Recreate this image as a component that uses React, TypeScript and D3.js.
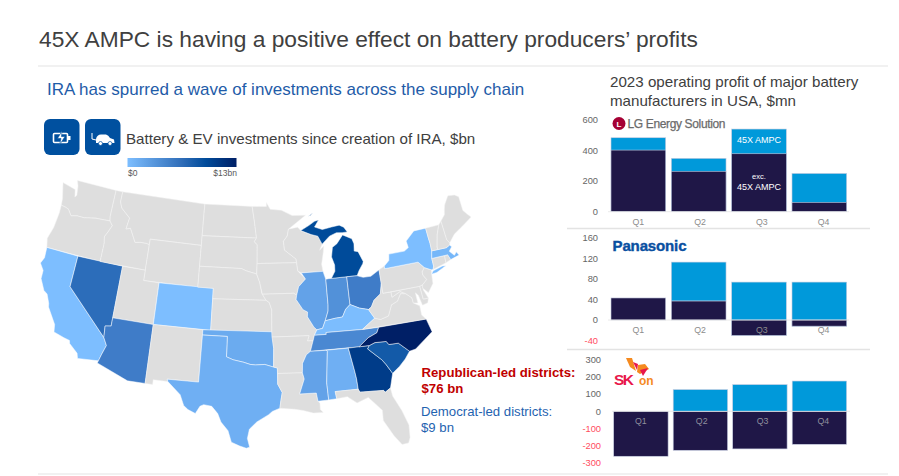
import React from "react";
import * as d3 from "d3";

type Pt = [number, number];
const FONT = "'Liberation Sans', Arial, sans-serif";

// ---------- map data: state outlines in lon/lat, values in $bn ----------
const stateOutlines: Record<string, Pt[][]> = {
  WA: [[[-124.7,48.4],[-123.1,48.15],[-122.75,48.1],[-122.5,47.4],[-122.3,47.6],[-122.5,48.5],[-122.8,49],[-117.03,49],[-117.04,46.4],[-116.92,45.99],[-119,45.93],[-120.5,45.7],[-121.5,45.7],[-122.3,45.55],[-122.9,46.1],[-123.4,46.2],[-124,46.27],[-124.1,46.9]]],
  OR: [[[-124,46.27],[-123.4,46.2],[-122.9,46.1],[-122.3,45.55],[-121.5,45.7],[-120.5,45.7],[-119,45.93],[-116.92,45.99],[-116.47,45.6],[-116.85,44.95],[-117.2,44.4],[-117.03,43.8],[-117.03,42],[-124.2,42],[-124.5,42.85],[-124.1,44],[-123.95,45.5]]],
  CA: [[[-124.2,42],[-120,42],[-120,39],[-114.63,35],[-114.15,34.3],[-114.5,33.4],[-114.72,32.72],[-117.12,32.53],[-117.3,33],[-118.4,33.75],[-118.5,34.03],[-119.2,34.15],[-120.5,34.45],[-120.65,35.15],[-121.9,36.6],[-122,36.95],[-122.5,37.75],[-123,38],[-123.75,39],[-123.8,39.8],[-124.4,40.4],[-124.1,41]]],
  NV: [[[-120,42],[-114.04,42],[-114.04,36.2],[-114.75,36.1],[-114.63,35],[-120,39]]],
  ID: [[[-117.03,49],[-116.05,49],[-116.05,48],[-115.7,47.45],[-114.35,46.65],[-114.55,45.56],[-113.95,45.7],[-113.45,45.05],[-113,44.45],[-112.3,44.55],[-111.5,44.55],[-111.05,44.48],[-111.05,42],[-117.03,42],[-117.03,43.8],[-117.2,44.4],[-116.85,44.95],[-116.47,45.6],[-116.92,45.99],[-117.04,46.4]]],
  MT: [[[-116.05,49],[-104.05,49],[-104.05,45],[-111.05,45],[-111.05,44.48],[-111.5,44.55],[-112.3,44.55],[-113,44.45],[-113.45,45.05],[-113.95,45.7],[-114.55,45.56],[-114.35,46.65],[-115.7,47.45],[-116.05,48]]],
  WY: [[[-111.05,45],[-104.05,45],[-104.05,41],[-111.05,41]]],
  UT: [[[-114.04,42],[-111.05,42],[-111.05,41],[-109.05,41],[-109.05,37],[-114.04,37]]],
  CO: [[[-109.05,41],[-102.05,41],[-102.05,37],[-109.05,37]]],
  AZ: [[[-114.04,37],[-109.05,37],[-109.05,31.33],[-111.07,31.33],[-114.8,32.5],[-114.72,32.72],[-114.5,33.4],[-114.15,34.3],[-114.63,35],[-114.75,36.1],[-114.04,36.2]]],
  NM: [[[-109.05,37],[-103,37],[-103.05,32],[-106.62,32],[-106.53,31.78],[-108.2,31.78],[-108.2,31.33],[-109.05,31.33]]],
  ND: [[[-104.05,49],[-97.2,49],[-96.85,47.5],[-96.55,45.94],[-104.05,45.94]]],
  SD: [[[-104.05,45.94],[-96.55,45.94],[-96.85,45.6],[-96.45,45.3],[-96.45,43.5],[-96.5,42.5],[-97.9,42.8],[-98.5,43],[-104.05,43]]],
  NE: [[[-104.05,43],[-98.5,43],[-97.9,42.8],[-96.5,42.5],[-96.1,41.7],[-95.85,40.7],[-95.3,40],[-102.05,40],[-102.05,41],[-104.05,41]]],
  KS: [[[-102.05,40],[-95.3,40],[-94.9,39.8],[-94.6,39.1],[-94.62,37],[-102.05,37]]],
  OK: [[[-103,37],[-94.62,37],[-94.43,35.4],[-94.48,33.64],[-95.5,33.9],[-96.6,33.85],[-97.2,33.9],[-98,34.1],[-99.2,34.3],[-100,34.56],[-100,36.5],[-103,36.5]]],
  TX: [[[-103,36.5],[-100,36.5],[-100,34.56],[-99.2,34.3],[-98,34.1],[-97.2,33.9],[-96.6,33.85],[-95.5,33.9],[-94.48,33.64],[-94.04,33.55],[-94.04,32],[-93.55,31.2],[-93.75,30.3],[-93.85,29.7],[-94.7,29.4],[-95.1,29.1],[-96.4,28.4],[-97.2,27.7],[-97.4,26.8],[-97.15,25.96],[-97.5,25.85],[-98.2,26.05],[-99.1,26.4],[-99.5,27.5],[-100.3,28.3],[-100.7,29.1],[-101.4,29.77],[-102.3,29.88],[-102.7,29.7],[-103.15,28.98],[-104,29.3],[-104.5,29.65],[-105,30.65],[-106.53,31.78],[-106.62,32],[-103.05,32]]],
  MN: [[[-97.2,49],[-95.15,49],[-95.15,49.38],[-94.6,48.72],[-93,48.6],[-91.5,48.05],[-89.6,48],[-91,47.3],[-92.1,46.75],[-92.3,46.1],[-92.85,45.6],[-92.75,44.75],[-91.25,43.85],[-91.2,43.5],[-96.45,43.5],[-96.45,45.3],[-96.85,45.6],[-96.55,45.94],[-96.85,47.5]]],
  IA: [[[-96.45,43.5],[-91.2,43.5],[-91.1,42.7],[-90.15,41.9],[-91.1,41.2],[-91.4,40.4],[-91.75,40.6],[-95.77,40.58],[-96.1,41.7],[-96.5,42.5]]],
  MO: [[[-95.77,40.58],[-91.75,40.6],[-91.4,40.4],[-91.5,40],[-90.7,39],[-90.15,38.75],[-90.2,38.3],[-89.5,37.3],[-89.15,37],[-89.5,36.5],[-89.7,36],[-90.37,36],[-90.15,36.5],[-94.62,36.5],[-94.62,37],[-94.6,39.1],[-94.9,39.8],[-95.3,40]]],
  AR: [[[-94.62,36.5],[-90.15,36.5],[-90.37,36],[-89.7,36],[-90.1,35],[-90.6,34.7],[-91.1,33.9],[-91.17,33],[-94.04,33.02],[-94.04,33.55],[-94.48,33.64],[-94.43,35.4]]],
  LA: [[[-94.04,33.02],[-91.17,33],[-91,32.4],[-91.6,31],[-89.73,31],[-89.6,30.2],[-89.4,30],[-89.4,29.4],[-89.1,29.1],[-90.2,29.1],[-91.3,29.4],[-92.2,29.55],[-93.85,29.7],[-93.75,30.3],[-93.55,31.2],[-94.04,32]]],
  WI: [[[-92.1,46.75],[-90.8,46.9],[-90.4,46.55],[-89,46.1],[-88.1,45.9],[-87.6,45.1],[-88,44.55],[-87.4,44.9],[-87.55,44.3],[-87.9,43.2],[-87.8,42.5],[-90.65,42.5],[-91.1,42.7],[-91.2,43.5],[-91.25,43.85],[-92.75,44.75],[-92.85,45.6],[-92.3,46.1]]],
  IL: [[[-90.65,42.5],[-87.8,42.5],[-87.53,41.72],[-87.53,39.3],[-87.6,38.7],[-88.05,37.8],[-88.45,37.1],[-89.15,37],[-89.5,37.3],[-90.2,38.3],[-90.15,38.75],[-90.7,39],[-91.5,40],[-91.4,40.4],[-91.1,41.2],[-90.15,41.9]]],
  IN: [[[-87.53,41.72],[-87.2,41.76],[-84.8,41.76],[-84.8,39.1],[-85.4,38.7],[-85.9,38],[-86.8,37.95],[-88.05,37.8],[-87.6,38.7],[-87.53,39.3]]],
  MI: [
    [[-86.8,41.76],[-84.8,41.76],[-83.45,41.73],[-83.1,42.2],[-82.5,42.8],[-82.4,43],[-82.9,44],[-83.4,44.1],[-83.3,44.8],[-83.5,45.3],[-84.7,45.78],[-85.6,45],[-86.25,44.7],[-86.5,43.8],[-86.2,43],[-86.25,42.4]],
    [[-90.4,46.55],[-89.2,47],[-88.4,47.35],[-87.8,47.45],[-88.45,46.8],[-87.4,46.5],[-86.1,46.65],[-85,46.75],[-84.4,46.5],[-84,46],[-84.7,46],[-85.5,46.05],[-86.5,45.8],[-87.6,45.1],[-88.1,45.9],[-89,46.1]],
    [[-89.2,47.88],[-88.5,48.18],[-88.9,47.95]],
  ],
  OH: [[[-84.8,41.76],[-83.45,41.73],[-82.7,41.5],[-81.7,41.5],[-80.52,41.98],[-80.52,40.64],[-80.85,39.7],[-81.75,39.2],[-82.2,38.6],[-82.6,38.4],[-83.7,38.65],[-84.8,39.1]]],
  KY: [[[-89.15,37],[-88.45,37.1],[-88.05,37.8],[-86.8,37.95],[-85.9,38],[-85.4,38.7],[-84.8,39.1],[-83.7,38.65],[-82.6,38.4],[-82,37.5],[-83.67,36.6],[-88.07,36.68],[-88.07,36.5],[-89.5,36.5]]],
  TN: [[[-90.1,35],[-89.7,36],[-89.5,36.5],[-88.07,36.5],[-88.07,36.68],[-83.67,36.6],[-81.68,36.59],[-82,36.1],[-83.1,35.75],[-84.32,35]]],
  MS: [[[-90.1,35],[-88.2,35],[-88.1,34.9],[-88.47,31.9],[-88.4,30.25],[-89.6,30.2],[-89.73,31],[-91.6,31],[-91,32.4],[-91.17,33],[-91.1,33.9],[-90.6,34.7]]],
  AL: [[[-88.2,35],[-85.6,35],[-85.18,32.85],[-85.05,32],[-85,31],[-87.6,31],[-87.5,30.3],[-88.4,30.25],[-88.47,31.9],[-88.1,34.9]]],
  GA: [[[-85.6,35],[-83.1,35],[-83.35,34.7],[-81.9,33.5],[-81.5,33],[-80.9,32.05],[-81.4,30.7],[-82.05,30.37],[-82.2,30.57],[-84.86,30.7],[-85,31],[-85.05,32],[-85.18,32.85]]],
  FL: [[[-87.6,31],[-85,31],[-84.86,30.7],[-82.2,30.57],[-82.05,30.37],[-81.4,30.7],[-81.3,29.9],[-80.55,28.4],[-80.05,26.9],[-80.15,25.7],[-80.4,25.2],[-81.1,25.15],[-81.8,26.1],[-82.7,27.7],[-82.65,28.7],[-83.4,29.5],[-84,30.1],[-85.3,29.7],[-86.3,30.4],[-87.5,30.3]]],
  SC: [[[-83.35,34.7],[-83.1,35],[-82.4,35.2],[-81.05,35.15],[-80.8,34.82],[-79.67,34.8],[-78.55,33.86],[-79.2,33.2],[-80,32.6],[-80.9,32.05],[-81.5,33],[-81.9,33.5]]],
  NC: [[[-84.32,35],[-83.1,35.75],[-82,36.1],[-81.68,36.59],[-75.87,36.55],[-75.5,35.25],[-76.5,34.7],[-77.8,33.95],[-78.55,33.86],[-79.67,34.8],[-80.8,34.82],[-81.05,35.15],[-82.4,35.2],[-83.1,35]]],
  VA: [[[-83.67,36.6],[-75.87,36.55],[-76.3,37],[-76.3,37.9],[-77,38.3],[-77.05,38.8],[-77.7,39.3],[-78.35,39.4],[-78.9,38.75],[-79.7,38.5],[-80.3,37.5],[-81.3,37.3],[-82,37.5]]],
  WV: [[[-82.6,38.4],[-82.2,38.6],[-81.75,39.2],[-80.85,39.7],[-80.52,40.64],[-80.52,39.72],[-79.48,39.72],[-79.48,39.2],[-78.35,39.6],[-77.7,39.3],[-78.35,39.4],[-78.9,38.75],[-79.7,38.5],[-80.3,37.5],[-81.3,37.3],[-82,37.5]]],
  MD: [[[-79.48,39.72],[-75.79,39.72],[-75.7,38.46],[-75.05,38.45],[-75.25,38.03],[-75.95,37.9],[-76.2,38.9],[-76.5,39.2],[-76.45,38.2],[-77,38.3],[-77.05,38.8],[-77.7,39.3],[-78.35,39.6],[-79.48,39.2]]],
  DE: [[[-75.79,39.72],[-75.4,39.8],[-75.45,39.3],[-75.05,38.45],[-75.7,38.46]]],
  PA: [[[-80.52,41.98],[-79.76,42.25],[-79.76,42],[-75.35,42],[-74.7,41.36],[-75.1,41],[-75.1,40.7],[-74.75,40.2],[-75.4,39.8],[-75.79,39.72],[-80.52,39.72]]],
  NJ: [[[-74.7,41.36],[-73.9,41],[-74,40.45],[-74.1,39.7],[-74.9,38.95],[-75.5,39.5],[-75.4,39.8],[-74.75,40.2],[-75.1,40.7],[-75.1,41]]],
  NY: [
    [[-79.76,42.25],[-79.05,42.7],[-78.9,43.3],[-76.8,43.3],[-76.2,43.55],[-76.3,44.2],[-75,45],[-73.35,45],[-73.3,44],[-73.25,43.5],[-73.27,42.75],[-73.5,42.05],[-73.5,41.3],[-73.65,41],[-73.9,41],[-74.7,41.36],[-75.35,42],[-79.76,42]],
    [[-74,40.6],[-73.3,40.63],[-71.95,41.05],[-72.4,41.1],[-73.7,40.87]],
  ],
  CT: [[[-73.5,42.05],[-71.8,42.02],[-71.85,41.32],[-73.65,41],[-73.5,41.3]]],
  RI: [[[-71.8,42.02],[-71.38,42.02],[-71.15,41.5],[-71.85,41.32]]],
  MA: [[[-73.5,42.05],[-73.27,42.75],[-71.3,42.7],[-70.8,42.87],[-70.6,42.65],[-71.05,42.3],[-70.55,41.8],[-70.2,42.07],[-69.95,41.7],[-71.15,41.5],[-71.38,42.02],[-71.8,42.02]]],
  VT: [[[-73.35,45],[-71.5,45],[-72.05,44.1],[-72.45,43],[-72.46,42.73],[-73.27,42.75],[-73.25,43.5],[-73.3,44]]],
  NH: [[[-71.5,45],[-71.08,45.3],[-70.98,43.4],[-70.7,43.07],[-70.8,42.87],[-71.3,42.7],[-72.46,42.73],[-72.45,43],[-72.05,44.1]]],
  ME: [[[-71.08,45.3],[-70.4,45.8],[-70.25,46.2],[-70,46.7],[-69.23,47.46],[-68.3,47.35],[-67.8,47.07],[-67.8,45.7],[-67.45,45.3],[-67,44.85],[-68.5,44.25],[-69.8,43.75],[-70.7,43.07],[-70.98,43.4]]],
};

const stateInvestment: Record<string, number> = {
  CA: 0.5, NY: 0.5, KY: 0.6, CO: 0.5, MA: 1, TX: 1.5, AL: 1.5, OK: 1.8, IL: 2.4, MS: 2.4,
  IN: 3.6, TN: 4.2, OH: 5, AZ: 5, NV: 6.5, SC: 8.5, MI: 10, GA: 11, NC: 13,
};

// ---------- bar data ----------
const quarters = ["Q1", "Q2", "Q3", "Q4"];
const lgExc = [404, 265, 380, 61];
const lgTotal = [485, 350, 542, 251];
const lgTicks = [0, 200, 400, 600];
const panExc = [43, 37, -30, -12];
const panAmpc = [0, 76, 74, 74];
const panTicks = [-40, 0, 40, 80, 120, 160];
const skExc = [-263, -228, -220, -193];
const skAmpc = [0, 127, 156, 177];
const skTicks = [-300, -200, -100, 0, 100, 200, 300];

const DARK = "#1f1747";
const AMPC = "#0099da";
const EDGE = "#c6cce0";

const projection = d3.geoConicEqualArea()
  .parallels([29.5, 45.5]).rotate([96, 0]).center([0, 38.7])
  .scale(597).translate([260.5, 314]);
const line = d3.line<Pt>()
  .x(p => (projection(p) as Pt)[0])
  .y(p => (projection(p) as Pt)[1]);
const color = d3.scaleLinear<string>()
  .domain([0.5, 5, 10, 13])
  .range(["#7dbeff", "#3f7cc8", "#004b9a", "#001f66"]);

function USMap() {
  return (
    <g>
      {Object.entries(stateOutlines).map(([id, rings]) => (
        <path
          key={id}
          d={rings.map(r => line(r) + "Z").join("")}
          fill={id in stateInvestment ? color(stateInvestment[id]) : "#dedede"}
          stroke={id in stateInvestment ? "#ffffff" : "#f4f4f4"}
          strokeWidth={0.5}
        />
      ))}
    </g>
  );
}

type BarProps = {
  y0: number; unit: number; unitPx: number; ticks: number[];
  x0: number; step: number; barW: number; axisRight: number; axisSize: number;
  lower: number[]; upper: number[]; stacked?: boolean; labelY: number; labelColor: string;
  baseFrom: number; baseTo: number;
};

function BarChart(p: BarProps) {
  const y = d3.scaleLinear().domain([0, p.unit]).range([p.y0, p.y0 - p.unitPx]);
  const x = d3.scaleBand<string>().domain(quarters)
    .range([p.x0, p.x0 + p.step * 4]).paddingInner((p.step - p.barW) / p.step).paddingOuter(0).align(0);
  const bw = p.barW;
  return (
    <g fontFamily={FONT}>
      {p.ticks.map(t => (
        <text key={t} x={p.axisRight} y={y(t)} dy="0.35em" textAnchor="end" fontSize={p.axisSize}
          fill={t < 0 ? "#ff4d5e" : "#666666"}>{t}</text>
      ))}
      {quarters.map((q, i) => {
        const bx = p.x0 + p.step * i;
        const lo = p.lower[i];
        const up = p.upper[i];
        return (
          <g key={q}>
            {up !== 0 && (
              <rect x={bx} width={bw} y={y(up)} height={y(p.stacked ? lo : 0) - y(up)}
                fill={AMPC} stroke={EDGE} strokeWidth={0.6} />
            )}
            <rect x={bx} width={bw} y={Math.min(y(lo), y(0))} height={Math.abs(y(lo) - y(0))}
              fill={DARK} stroke={EDGE} strokeWidth={0.6} />
          </g>
        );
      })}
      <line x1={p.baseFrom} x2={p.baseTo} y1={p.y0} y2={p.y0} stroke="#e4e4e4" strokeWidth={0.8} />
      {quarters.map((q, i) => (
        <text key={q} x={(x(q) as number) + bw / 2} y={p.labelY} dy="0.35em" textAnchor="middle"
          fontSize={8.8} fill={p.labelColor}>{q}</text>
      ))}
    </g>
  );
}

export default function App() {
  const rule = "#e3e3e3";
  return (
    <svg width={899} height={476} viewBox="0 0 899 476"
      style={{ position: "absolute", left: 0, top: 0, background: "#fff" }} fontFamily={FONT}>
      <defs>
        <linearGradient id="legendGrad" x1="0" x2="1" y1="0" y2="0">
          <stop offset="0" stopColor="#7dbeff" />
          <stop offset="0.5" stopColor="#2f6db8" />
          <stop offset="0.72" stopColor="#004b9a" />
          <stop offset="1" stopColor="#001f66" />
        </linearGradient>
      </defs>

      <text x={39} y={47} fontSize={22.75} fill="#404040">45X AMPC is having a positive effect on battery producers’ profits</text>
      <line x1={38} x2={888} y1={66} y2={66} stroke={rule} strokeWidth={1} />
      <line x1={38} x2={888} y1={474} y2={474} stroke={rule} strokeWidth={1} />

      <text x={47} y={95} fontSize={17} fill="#1f5ca8">IRA has spurred a wave of investments across the supply chain</text>

      {/* icons */}
      <rect x={44} y={119} width={35.5} height={36} rx={6} fill="#00509f" />
      <rect x={85} y={119} width={35.5} height={36} rx={6} fill="#00509f" />
      <g fill="none" stroke="#fff" strokeWidth={1.6}>
        <rect x={53.5} y={133.5} width={14} height={9} rx={1} />
      </g>
      <rect x={68} y={136} width={2.5} height={4} fill="#fff" />
      <path d="M62 131 L57.5 138.5 L61 138.5 L59.5 145 L65 136.5 L61.5 136.5 Z" fill="#fff" stroke="#00509f" strokeWidth={0.6} />
      <path d="M96 139 Q97 134.5 101 134.5 L106 134.5 Q108.5 135 110 138 L114 139.5 L114.5 143 L96 143 Z" fill="#fff" />
      <circle cx={100.5} cy={143.5} r={2} fill="#fff" stroke="#00509f" strokeWidth={0.7} />
      <circle cx={110} cy={143.5} r={2} fill="#fff" stroke="#00509f" strokeWidth={0.7} />
      <path d="M92 133 L92 139 L96 140" fill="none" stroke="#fff" strokeWidth={1} />

      <text x={126} y={144} fontSize={15.15} fill="#404040">Battery &amp; EV investments since creation of IRA, $bn</text>
      <rect x={127.5} y={158} width={109} height={9} fill="url(#legendGrad)" />
      <text x={128} y={176} fontSize={8.5} fill="#595959">$0</text>
      <text x={237} y={176} fontSize={8.5} fill="#595959" textAnchor="end">$13bn</text>

      <USMap />

      <text x={421.5} y={377} fontSize={13.2} fontWeight={700} fill="#c00000">Republican-led districts:</text>
      <text x={421.5} y={393} fontSize={13.2} fontWeight={700} fill="#c00000">$76 bn</text>
      <text x={421} y={416} fontSize={13.2} fill="#1f63b0">Democrat-led districts:</text>
      <text x={421} y={432} fontSize={13.2} fill="#1f63b0">$9 bn</text>

      <text x={610} y={87} fontSize={15.15} fill="#404040">2023 operating profit of major battery</text>
      <text x={610} y={106} fontSize={15.15} fill="#404040">manufacturers in USA, $mn</text>

      <BarChart y0={211.7} unit={200} unitPx={30.5} ticks={lgTicks} x0={611} step={60.33} barW={54.7}
        axisRight={598} axisSize={9.3} lower={lgExc} upper={lgTotal} labelY={222} labelColor="#8c8c8c"
        baseFrom={608} baseTo={849} />
      <text x={759} y={140} dy="0.35em" textAnchor="middle" fontSize={9} fill="#fff">45X AMPC</text>
      <text x={759} y={176.5} dy="0.35em" textAnchor="middle" fontSize={7.5} fill="#fff">exc.</text>
      <text x={759} y={186.5} dy="0.35em" textAnchor="middle" fontSize={9} fill="#fff">45X AMPC</text>
      <circle cx={619} cy={123.5} r={6.5} fill="#a50034" />
      <text x={619} y={126.5} fontSize={8} fill="#fff" textAnchor="middle" fontWeight={700}>L</text>
      <text x={627.5} y={128} fontSize={12} fill="#6b6b6b" stroke="#6b6b6b" strokeWidth={0.25} textLength={98}>LG Energy Solution</text>
      <line x1={567} x2={870} y1={228.5} y2={228.5} stroke={rule} strokeWidth={1.5} />

      <BarChart y0={320} unit={40} unitPx={20.5} ticks={panTicks} x0={611} step={60.33} barW={54.7}
        axisRight={598} axisSize={9.3} lower={panExc} upper={panAmpc.map((a, i) => a === 0 ? 0 : a + Math.max(panExc[i], 0))}
        stacked labelY={330} labelColor="#8c8c8c" baseFrom={608} baseTo={849} />
      <text x={612.5} y={251} fontSize={15} fontWeight={700} fill="#0a50a1" stroke="#0a50a1" strokeWidth={0.4} textLength={74}>Panasonic</text>
      <line x1={567} x2={870} y1={349.5} y2={349.5} stroke={rule} strokeWidth={1.5} />

      <BarChart y0={411.3} unit={100} unitPx={17.1} ticks={skTicks} x0={613.7} step={59.5} barW={54.4}
        axisRight={601} axisSize={9.3} lower={skExc} upper={skAmpc} labelY={421.3} labelColor="#8f8f9e"
        baseFrom={612} baseTo={850} />
      <path d="M626 358 L632 358 L636 371 L630 367 Z" fill="#f58a1f" />
      <path d="M638 365 L645 364 L649 369 L640 374 L637 372 Z" fill="#f58a1f" />
      <path d="M633 362 L638 364 L637 370 Z" fill="#e8174b" />
      <path d="M640 370 L648 368 L643 376 Z" fill="#e8174b" />
      <text x={614} y={384.5} fontSize={15.5} fontWeight={700} fill="#e8174b" textLength={20}>SK</text>
      <text x={639} y={385} fontSize={12} fontWeight={700} fill="#f58a1f">on</text>
    </svg>
  );
}
